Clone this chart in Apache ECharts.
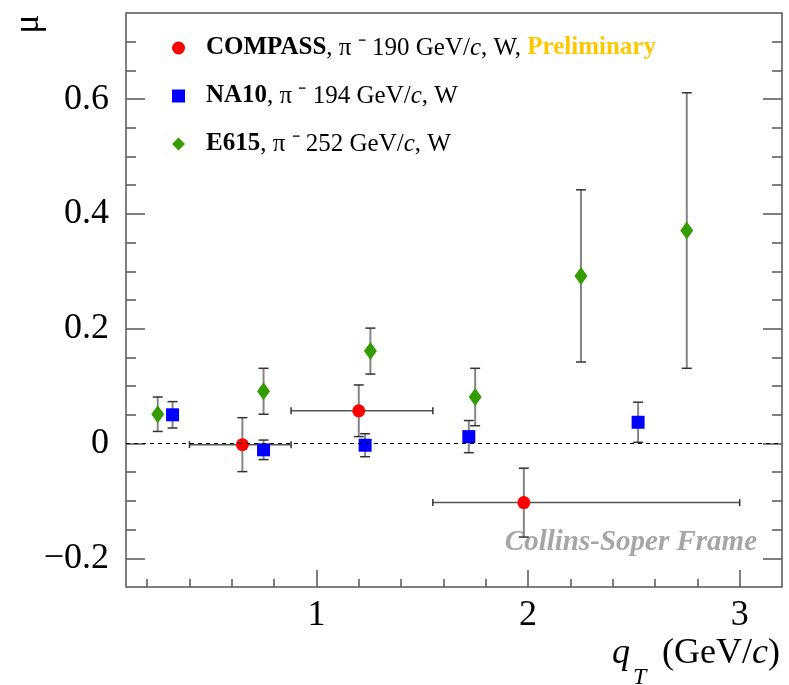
<!DOCTYPE html>
<html>
<head>
<meta charset="utf-8">
<script src="https://cdn.jsdelivr.net/npm/echarts@6/dist/echarts.min.js"></script>
<style>
  html, body { margin: 0; padding: 0; background: #fff; }
  #main { width: 789px; height: 685px; }
</style>
</head>
<body>
<div id="main"></div>
<script>
// COMPASS (with qT bin widths)
const compassX = [0.65, 1.20, 1.98]
const compassY = [-0.002, 0.057, -0.103]
const compassErr = [0.047, 0.045, 0.060]
const compassXLow = [0.40, 0.88, 1.55]
const compassXHigh = [0.88, 1.55, 3.00]

// NA10
const na10X = [0.32, 0.75, 1.23, 1.72, 2.52]
const na10Y = [0.050, -0.011, -0.003, 0.012, 0.037]
const na10Err = [0.023, 0.017, 0.020, 0.028, 0.035]

// E615
const e615X = [0.25, 0.75, 1.255, 1.75, 2.25, 2.75]
const e615Y = [0.051, 0.091, 0.161, 0.081, 0.292, 0.371]
const e615Err = [0.030, 0.040, 0.040, 0.050, 0.150, 0.240]

// ticks
const xMajor = [1, 2, 3]
const xMinor = [0.2, 0.4, 0.6, 0.8, 1.2, 1.4, 1.6, 1.8, 2.2, 2.4, 2.6, 2.8, 3.0]
const yMajor = [-0.2, 0, 0.2, 0.4, 0.6]
const yMinor = [-0.15, -0.1, -0.05, 0.05, 0.1, 0.15, 0.25, 0.3, 0.35, 0.45, 0.5, 0.55, 0.65, 0.7]

const FONT = 'Liberation Serif'
const AX = '#555'

function errSeries(xs, ys, errs, xlo, xhi) {
  const data = xs.map((x, i) => xlo ? [x, ys[i], errs[i], xlo[i], xhi[i]] : [x, ys[i], errs[i]])
  return {
    type: 'custom',
    silent: true,
    z: 2,
    encode: { x: 0, y: 1 },
    renderItem(params, api) {
      const x = api.value(0)
      const y = api.value(1)
      const e = api.value(2)
      const top = api.coord([x, y + e])
      const bot = api.coord([x, y - e])
      const children = [
        { type: 'line', shape: { x1: top[0], y1: top[1], x2: bot[0], y2: bot[1] }, style: { stroke: '#858585', lineWidth: 2 } },
        { type: 'line', shape: { x1: top[0] - 5, y1: top[1], x2: top[0] + 5, y2: top[1] }, style: { stroke: '#333', lineWidth: 1.5 } },
        { type: 'line', shape: { x1: bot[0] - 5, y1: bot[1], x2: bot[0] + 5, y2: bot[1] }, style: { stroke: '#333', lineWidth: 1.5 } }
      ]
      if (xlo) {
        const l = api.coord([api.value(3), y])
        const r = api.coord([api.value(4), y])
        children.push(
          { type: 'line', shape: { x1: l[0], y1: l[1], x2: r[0], y2: r[1] }, style: { stroke: '#555', lineWidth: 1.5 } },
          { type: 'line', shape: { x1: l[0], y1: l[1] - 3.5, x2: l[0], y2: l[1] + 3.5 }, style: { stroke: '#333', lineWidth: 1.5 } },
          { type: 'line', shape: { x1: r[0], y1: r[1] - 3.5, x2: r[0], y2: r[1] + 3.5 }, style: { stroke: '#333', lineWidth: 1.5 } }
        )
      }
      return { type: 'group', children }
    },
    data
  }
}

function pts(xs, ys) {
  return xs.map((x, i) => [x, ys[i]])
}

const tickStyle = { color: AX, width: 1.5 }

function xAxisDef(ticks, len, labels) {
  return {
    type: 'value', min: 0.1, max: 3.2, position: 'bottom',
    axisLine: { show: false, onZero: false },
    splitLine: { show: false },
    axisTick: { inside: true, length: len, customValues: ticks, lineStyle: tickStyle },
    axisLabel: labels
      ? { customValues: ticks, margin: 11, fontSize: 36, fontFamily: FONT, color: '#000' }
      : { show: false }
  }
}

function yAxisDef(ticks, len, pos, labels) {
  return {
    type: 'value', min: -0.25, max: 0.75, position: pos,
    axisLine: { show: false, onZero: false },
    splitLine: { show: false },
    axisTick: { inside: true, length: len, customValues: ticks, lineStyle: tickStyle },
    axisLabel: labels
      ? {
          customValues: ticks, margin: 17, fontSize: 36, fontFamily: FONT, color: '#000',
          formatter: v => (v < 0 ? '\u2212' : '') + String(Math.abs(Math.round(v * 10) / 10))
        }
      : { show: false }
  }
}

const chart = echarts.init(document.getElementById('main'))

const option = {
  animation: false,
  grid: {
    left: 126, right: 7, top: 13, bottom: 98,
    show: true, borderColor: AX, borderWidth: 1.5
  },
  xAxis: [
    xAxisDef(xMajor, 17, true),
    xAxisDef(xMinor, 8, false)
  ],
  yAxis: [
    yAxisDef(yMajor, 19, 'left', true),
    yAxisDef(yMinor, 10, 'left', false),
    yAxisDef(yMajor, 19, 'right', false),
    yAxisDef(yMinor, 10, 'right', false)
  ],
  legend: {
    orient: 'vertical',
    left: 167,
    top: 29,
    itemWidth: 13,
    itemHeight: 13,
    itemGap: 20,
    selectedMode: false,
    data: ['COMPASS', 'NA10', 'E615'],
    textStyle: {
      fontFamily: FONT, fontSize: 25, color: '#000', lineHeight: 28, padding: [0, 0, 0, 16],
      rich: {
        b: { fontFamily: FONT, fontSize: 25, fontWeight: 'bold', color: '#000', lineHeight: 28 },
        i: { fontFamily: FONT, fontSize: 25, fontStyle: 'italic', color: '#000', lineHeight: 28 },
        p: { fontFamily: FONT, fontSize: 25, fontWeight: 'bold', color: '#fcc800', lineHeight: 28 }
      }
    },
    formatter: name => {
      if (name === 'COMPASS') return '{b|COMPASS}, \u03c0 \u207b 190 GeV/{i|c}, W, {p|Preliminary}'
      if (name === 'NA10') return '{b|NA10}, \u03c0 \u207b 194 GeV/{i|c}, W'
      return '{b|E615}, \u03c0 \u207b 252 GeV/{i|c}, W'
    }
  },
  graphic: [
    {
      type: 'text', x: 29, y: 24, rotation: Math.PI / 2,
      style: { text: '\u03bc', font: '36px "Liberation Serif"', fill: '#000', align: 'center', verticalAlign: 'middle' }
    },
    {
      type: 'text', x: 757, y: 557,
      style: { text: 'Collins-Soper Frame', font: 'italic bold 29px "Liberation Serif"', fill: '#a6a6a6', align: 'right', verticalAlign: 'bottom' }
    },
    {
      type: 'text', x: 780, y: 672,
      style: {
        text: '(GeV/{i|c})', font: '36px "Liberation Serif"', fill: '#000', align: 'right', verticalAlign: 'bottom',
        rich: { i: { fontFamily: FONT, fontSize: 36, fontStyle: 'italic', fill: '#000' } }
      }
    },
    {
      type: 'text', x: 612, y: 672,
      style: { text: 'q', font: 'italic 36px "Liberation Serif"', fill: '#000', align: 'left', verticalAlign: 'bottom' }
    },
    {
      type: 'text', x: 633, y: 690,
      style: { text: 'T', font: 'italic 24px "Liberation Serif"', fill: '#000', align: 'left', verticalAlign: 'bottom' }
    }
  ],
  series: [
    errSeries(compassX, compassY, compassErr, compassXLow, compassXHigh),
    errSeries(na10X, na10Y, na10Err),
    errSeries(e615X, e615Y, e615Err),
    {
      name: 'COMPASS', type: 'scatter', z: 3,
      symbol: 'circle', symbolSize: 13,
      itemStyle: { color: '#ff0000', opacity: 1 },
      data: pts(compassX, compassY),
      markLine: {
        silent: true, symbol: 'none', label: { show: false },
        lineStyle: { color: '#000', width: 1, type: [4, 4] },
        data: [{ yAxis: 0 }]
      }
    },
    {
      name: 'NA10', type: 'scatter', z: 3,
      symbol: 'rect', symbolSize: 13,
      itemStyle: { color: '#0000ff', opacity: 1 },
      data: pts(na10X, na10Y)
    },
    {
      name: 'E615', type: 'scatter', z: 3,
      symbol: 'diamond', symbolSize: [13, 18],
      itemStyle: { color: '#349c00', opacity: 1 },
      data: pts(e615X, e615Y)
    }
  ]
}

option && chart.setOption(option)
</script>
</body>
</html>
